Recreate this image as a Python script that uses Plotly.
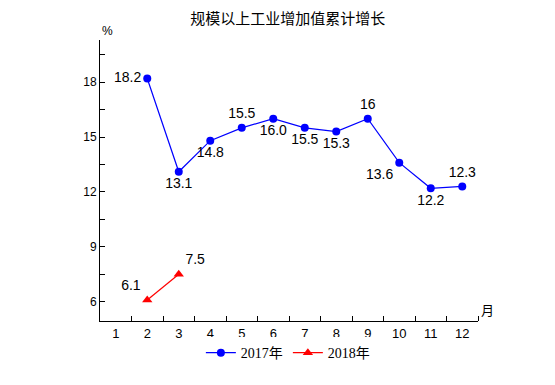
import plotly.graph_objects as go

months = list(range(1, 13))
x2017 = [2, 3, 4, 5, 6, 7, 8, 9, 10, 11, 12]
v2017 = [18.2, 13.1, 14.8, 15.5, 16.0, 15.5, 15.3, 16.0, 13.6, 12.2, 12.3]
t2017 = ["18.2", "13.1", "14.8", "15.5", "16.0", "15.5", "15.3", "16", "13.6", "12.2", "12.3"]
p2017 = ["middle left", "bottom center", "bottom center", "top center", "bottom center",
         "bottom center", "bottom center", "top center", "bottom left", "bottom center", "top center"]
x2018 = [2, 3]
v2018 = [6.1, 7.5]
t2018 = ["6.1", "7.5"]
p2018 = ["top left", "top right"]
yticks = [6, 9, 12, 15, 18]

lab_font = dict(family="Liberation Sans, Arial", size=14, color="black")

fig = go.Figure()
fig.add_trace(go.Scatter(
    x=x2017, y=v2017, name="2017年", mode="lines+markers+text",
    line=dict(color="#0000FF", width=1.2),
    marker=dict(color="#0000FF", size=8, symbol="circle"),
    text=t2017, textposition=p2017, textfont=lab_font, cliponaxis=False))
fig.add_trace(go.Scatter(
    x=x2018, y=v2018, name="2018年", mode="lines+markers+text",
    line=dict(color="#FF0000", width=1.2),
    marker=dict(color="#FF0000", size=9, symbol="triangle-up"),
    text=t2018, textposition=p2018, textfont=lab_font, cliponaxis=False))

fig.update_layout(
    width=547, height=377,
    margin=dict(l=92, r=77, t=32, b=64),
    plot_bgcolor="white", paper_bgcolor="white",
    title=dict(text="规模以上工业增加值累计增长", xref="paper", x=0.497, xanchor="center",
               y=0.972, yanchor="middle",
               font=dict(family="Noto Sans CJK SC", size=15, color="black")),
    showlegend=True,
    legend=dict(orientation="h", x=0.497, xanchor="center", y=-0.114, yanchor="middle",
                font=dict(family="Liberation Serif, Noto Sans CJK SC", size=14, color="black"),
                itemwidth=30, tracegroupgap=0),
    font=dict(family="Liberation Sans, Arial", size=12, color="black"),
)
fig.update_xaxes(
    range=[0.5, 12.5], tickmode="array", tickvals=months, ticktext=[str(m) for m in months],
    ticks="", showline=True, linecolor="black", linewidth=1, showgrid=False, zeroline=False,
    tickfont=dict(family="Liberation Sans, Arial", size=13, color="black"),
    minor=dict(tickvals=[m + 0.5 for m in months], ticks="inside", ticklen=5, tickcolor="black", showgrid=False),
)
fig.update_yaxes(
    range=[4.95, 20.3], tickmode="array", tickvals=yticks,
    ticks="inside", ticklen=5, tickcolor="black",
    showline=True, linecolor="black", linewidth=1, showgrid=False, zeroline=False,
    tickfont=dict(family="Liberation Sans, Arial", size=12, color="black"),
    minor=dict(tickvals=[7.5, 10.5, 13.5, 16.5, 19.5], ticks="inside", ticklen=5, tickcolor="black", showgrid=False),
)
fig.add_annotation(text="%", xref="paper", yref="paper", x=0.0, y=1.0, xanchor="left", yanchor="bottom",
                   showarrow=False, font=dict(family="Liberation Sans, Arial", size=12, color="black"))
fig.add_annotation(text="月", xref="paper", yref="paper", x=1.0, y=0.0, xanchor="left", yanchor="bottom",
                   showarrow=False, xshift=1, font=dict(family="Noto Sans CJK SC", size=13, color="black"))

fig.write_html("out.html")
